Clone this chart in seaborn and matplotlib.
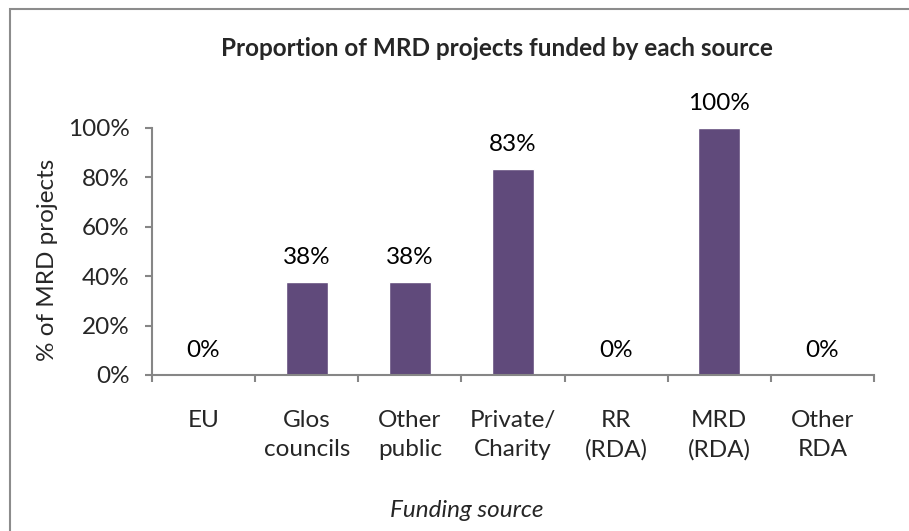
import pandas as pd
import matplotlib.pyplot as plt
import seaborn as sns
from matplotlib.patches import Rectangle
from matplotlib.ticker import PercentFormatter, FixedLocator

# Data
sources = ["EU", "Glos\ncouncils", "Other\npublic", "Private/\nCharity",
           "RR\n(RDA)", "MRD\n(RDA)", "Other\nRDA"]
share = [0.0, 0.375, 0.375, 0.833, 0.0, 1.0, 0.0]

df = pd.DataFrame({"source": sources, "share": share})

sns.set_style("white")
plt.rcParams["font.family"] = ["Lato", "DejaVu Sans"]

fig = plt.figure(figsize=(9.09, 5.31), dpi=100)
ax = fig.add_axes([0.1672, 0.2938, 0.7943, 0.4652])

sns.barplot(data=df, x="source", y="share", color="#604A7B", width=0.41,
            saturation=1, ax=ax)

ax.set_ylim(0, 1)
ax.set_xlim(-0.5, len(sources) - 0.5)
ax.yaxis.set_major_formatter(PercentFormatter(1.0, decimals=0))
ax.set_yticks([0, 0.2, 0.4, 0.6, 0.8, 1.0])

# value labels
ax.bar_label(ax.containers[0], labels=[f"{v:.0%}" for v in share],
             padding=10, fontsize=17.5, color="black")

# axis styling, Excel-like
for side in ["top", "right"]:
    ax.spines[side].set_visible(False)
for side in ["left", "bottom"]:
    ax.spines[side].set_color("#868686")
    ax.spines[side].set_linewidth(1.5)

ax.tick_params(axis="y", direction="out", length=5, width=1.5,
               color="#868686", labelsize=17.5, pad=11, left=True)
ax.tick_params(axis="x", which="major", length=0, labelsize=17.5, pad=25)
ax.xaxis.set_minor_locator(FixedLocator([i - 0.5 for i in range(len(sources) + 1)]))
ax.tick_params(axis="x", which="minor", direction="out", length=5, width=1.5,
               color="#868686", bottom=True)
for lbl in ax.get_xticklabels():
    lbl.set_linespacing(1.5)

ax.set_ylabel("% of MRD projects", fontsize=17.5)
ax.yaxis.set_label_coords(-0.130, 0.466)
ax.set_xlabel("Funding source", fontsize=17.5, style="italic")
ax.xaxis.set_label_coords(0.436, -0.505)

fig.text(0.547, 1 - 48 / 531, "Proportion of MRD projects funded by each source",
         ha="center", va="center", fontsize=17.5, fontweight="bold")

# outer chart frame (only left and top visible in the crop)
fig.patches.append(Rectangle((10 / 909, -0.2), 1.2, 0.2 + 1 - 9 / 531,
                             transform=fig.transFigure, fill=False,
                             edgecolor="#8c8c8c", linewidth=1.5, clip_on=False))

fig.savefig("out.png", dpi=100)
